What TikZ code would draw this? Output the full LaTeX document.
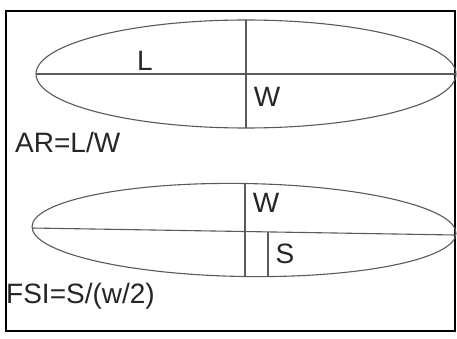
\documentclass[tikz,border=0pt]{standalone}
\usepackage{fontspec}
\setmainfont{Liberation Sans}
\definecolor{linegray}{HTML}{5A5A5A}
\definecolor{textgray}{HTML}{262626}
\begin{document}
\begin{tikzpicture}[x=1pt,y=-1pt,
  shape line/.style={draw=linegray,line width=1.1pt},
  lbl/.style={inner sep=0pt,text=textgray,font=\fontsize{28}{30}\selectfont},
  formula/.style={lbl,anchor=west}]
\useasboundingbox (0,0) rectangle (457,339);
\fill[white] (0,0) rectangle (457,339);
% frame
\draw[black,line width=1.2pt] (6,11) -- (455,11) -- (455,331) -- (6,331);
\draw[black,line width=2pt] (6,10) -- (6,332);
% ellipse 1
\draw[shape line] (246,74) ellipse [x radius=210, y radius=54];
\coordinate (l1a) at (36,74);
\coordinate (l1b) at (456,74);
\coordinate (w1a) at (246,20);
\coordinate (w1b) at (246,128);
\draw[shape line] (l1a) -- (l1b);
\draw[shape line] (w1a) -- (w1b);
\node[lbl] (L) at (145,61) {L};
\node[lbl] (W1) at (267,97) {W};
\node[formula] (AR) at (15,142) {AR=L/W};
% ellipse 2
\draw[shape line,rotate around={-0.9:(244,230)}] (244,230) ellipse [x radius=212, y radius=46.5];
\coordinate (c2a) at (32,228);
\coordinate (c2b) at (455,235);
\coordinate (w2a) at (245,183);
\coordinate (w2b) at (245,276);
\coordinate (s2a) at (268,232);
\coordinate (s2b) at (268,276);
\draw[shape line] (c2a) -- (c2b);
\draw[shape line] (w2a) -- (w2b);
\draw[shape line] (s2a) -- (s2b);
\node[lbl] (W2) at (266,203) {W};
\node[lbl] (S) at (285,254) {S};
\node[formula] (FSI) at (6,296) {FSI=S/(w/2)};
\end{tikzpicture}
\end{document}
